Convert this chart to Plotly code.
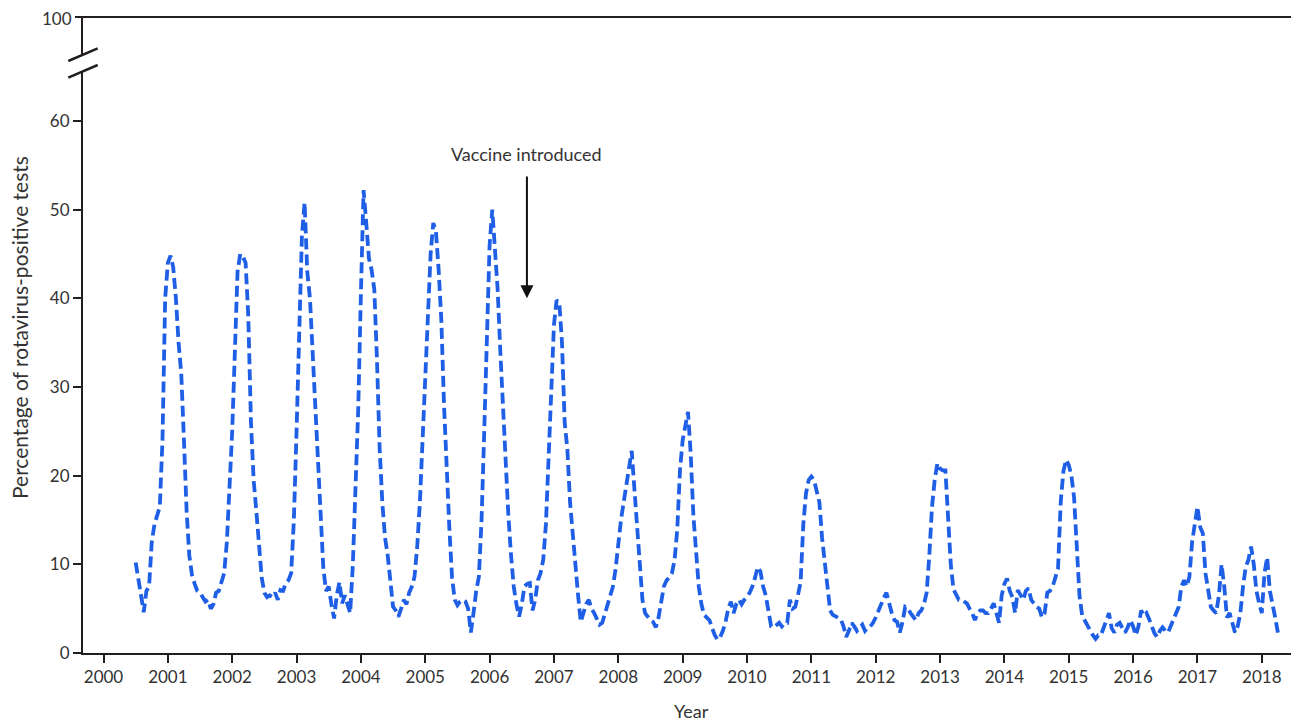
import plotly.graph_objects as go

# Semi-monthly readings (percentage of rotavirus-positive tests), each season starts July 1
start_year = 2000.5
step = 1 / 24

season_2000_01 = [10.2, 8.0, 6.5, 4.6, 7.0, 7.5, 12.5, 14.5, 15.5, 16.5, 24.0, 40.0,
                  44.0, 44.8, 43.5, 40.0, 35.0, 31.5, 24.0, 16.0, 11.0, 8.8, 7.8, 7.0]
season_2001_02 = [6.8, 6.3, 5.8, 6.0, 5.0, 5.5, 6.8, 7.0, 8.0, 9.0, 12.5, 18.0,
                  25.0, 34.0, 43.0, 45.0, 44.7, 44.0, 38.0, 26.0, 19.5, 16.0, 12.0, 8.5]
season_2002_03 = [6.8, 6.3, 6.5, 6.3, 6.8, 6.0, 7.1, 7.0, 7.9, 8.2, 9.0, 15.0,
                  25.0, 38.0, 47.0, 50.8, 43.0, 40.0, 34.0, 28.0, 21.8, 14.0, 9.5, 7.0]
season_2003_04 = [7.5, 5.5, 3.9, 6.5, 8.0, 5.6, 6.5, 5.5, 4.5, 10.0, 18.5, 27.5,
                  40.5, 52.2, 48.5, 44.5, 43.2, 41.0, 33.0, 23.0, 16.9, 13.0, 11.0, 7.5]
season_2004_05 = [5.2, 4.8, 4.1, 5.0, 6.0, 5.5, 6.8, 7.5, 8.6, 12.0, 17.0, 24.0,
                  31.0, 39.0, 45.0, 48.5, 47.5, 43.2, 37.5, 28.0, 20.5, 14.0, 8.5, 6.0]
season_2005_06 = [5.4, 5.8, 6.0, 5.8, 5.0, 2.3, 4.5, 7.0, 8.6, 15.0, 25.0, 35.0,
                  46.0, 50.0, 45.0, 41.0, 34.0, 27.0, 21.0, 15.5, 11.0, 7.5, 5.5, 4.1]
season_2006_07 = [5.5, 7.5, 7.8, 7.9, 4.8, 6.0, 8.2, 9.0, 10.5, 14.5, 22.0, 30.0,
                  37.0, 39.8, 39.5, 35.0, 26.0, 23.0, 17.0, 13.5, 9.5, 6.5, 3.5, 4.5]
season_2007_08 = [5.5, 6.0, 5.0, 4.5, 3.7, 3.2, 3.4, 4.5, 5.6, 6.5, 7.5, 9.5,
                  12.5, 15.0, 17.0, 19.0, 21.0, 22.8, 18.5, 14.0, 9.5, 6.0, 4.5, 4.0]
season_2008_09 = [3.7, 3.5, 2.9, 4.0, 5.6, 7.5, 8.2, 8.5, 9.0, 10.5, 14.0, 20.6,
                  24.0, 25.5, 27.2, 22.5, 15.5, 11.5, 7.5, 5.5, 4.3, 4.0, 3.7, 2.8]
season_2009_10 = [2.0, 1.5, 1.8, 2.5, 3.5, 5.0, 5.8, 4.5, 5.5, 6.0, 5.5, 6.0,
                  6.3, 6.8, 7.5, 8.5, 9.7, 9.2, 7.5, 6.5, 4.5, 3.0, 2.9, 3.2]
season_2010_11 = [3.4, 3.0, 3.4, 3.4, 6.0, 5.0, 5.2, 6.5, 8.0, 14.5, 18.0, 19.5,
                  19.9, 19.5, 18.4, 17.0, 13.0, 10.0, 7.5, 4.8, 4.3, 4.1, 4.0, 3.8]
season_2011_12 = [3.0, 1.8, 2.5, 3.4, 3.0, 2.5, 2.9, 3.2, 2.5, 2.9, 3.0, 3.4,
                  4.0, 4.8, 5.5, 6.2, 6.8, 5.5, 4.5, 3.7, 3.5, 2.3, 3.5, 5.2]
season_2012_13 = [5.0, 4.5, 4.0, 3.7, 4.5, 4.8, 5.5, 6.8, 11.0, 16.5, 19.5, 21.4,
                  20.8, 20.6, 20.6, 15.0, 10.0, 7.2, 6.5, 6.0, 6.0, 5.8, 5.6, 5.0]
season_2013_14 = [4.5, 3.7, 4.5, 4.8, 4.8, 4.5, 4.5, 5.0, 5.6, 4.5, 3.4, 6.5,
                  7.8, 8.4, 7.0, 6.3, 4.5, 7.1, 6.5, 6.0, 7.0, 7.3, 6.0, 5.6]
season_2014_15 = [5.2, 5.0, 4.0, 4.5, 6.8, 7.0, 7.5, 8.5, 9.5, 17.0, 20.5, 21.8,
                  21.2, 20.0, 17.5, 12.0, 6.5, 4.2, 3.6, 3.2, 2.5, 2.0, 1.6, 2.0]
season_2015_16 = [2.0, 2.9, 3.5, 4.5, 2.8, 2.3, 3.2, 3.4, 2.8, 2.3, 2.9, 3.7,
                  3.0, 2.0, 3.0, 4.8, 4.2, 4.5, 3.8, 2.9, 2.2, 1.8, 2.5, 2.9]
season_2016_17 = [2.5, 2.3, 3.0, 3.7, 4.5, 5.2, 7.5, 8.2, 7.5, 8.6, 12.5, 14.5,
                  16.5, 14.2, 13.5, 9.0, 6.8, 5.2, 4.8, 4.5, 6.5, 10.0, 7.5, 4.0]
season_2017_18 = [4.5, 3.5, 2.3, 3.0, 4.5, 7.5, 9.7, 10.5, 12.0, 10.0, 7.0, 5.6,
                  4.5, 9.0, 10.8, 7.0, 5.2, 4.0, 2.3]

year_ticks = list(range(2000, 2019))
y_ticks = [0, 10, 20, 30, 40, 50, 60]
top_tick = 100
annotation_text = "Vaccine introduced"
vaccine_year = 2006.58

values = (season_2000_01 + season_2001_02 + season_2002_03 + season_2003_04 +
          season_2004_05 + season_2005_06 + season_2006_07 + season_2007_08 +
          season_2008_09 + season_2009_10 + season_2010_11 + season_2011_12 +
          season_2012_13 + season_2013_14 + season_2014_15 + season_2015_16 +
          season_2016_17 + season_2017_18)
years = [start_year + i * step for i in range(len(values))]

FONT = "Lato"
AX = "#231f20"
TXT = "#333333"

# page geometry of the reference (the page body adds an 8px offset)
OFF = 8
PAGE_W, PAGE_H = 1299, 722
W, H = PAGE_W - OFF, PAGE_H - OFF
PL, PT, PB = 83, 17, 653          # plot area edges in page pixels
L, T, R = PL - OFF, PT - OFF, 0
B = H - (PB - OFF)
PW, PH = W - L - R, H - T - B
def px_x(px):
    return (px - PL) / PW
def px_y(py):
    return (PB - py) / PH

lower_top_px = 71.3
upper_bot_px = 54.6
per_unit = 8.867

fig = go.Figure()
fig.add_trace(go.Scatter(
    x=years, y=values, mode="lines",
    line=dict(color="#1F5FE6", width=3.8, dash="11px,5px"),
    showlegend=False, hoverinfo="x+y",
))
fig.add_trace(go.Scatter(x=[], y=[], yaxis="y2", showlegend=False))

axis_common = dict(
    ticks="outside", ticklen=8, tickwidth=2, tickcolor=AX,
    showline=True, linewidth=2, linecolor=AX,
    showgrid=False, zeroline=False, automargin=False,
    tickfont=dict(family=FONT, size=17, color=TXT),
)

fig.update_layout(
    width=W, height=H,
    margin=dict(l=L, r=R, t=T, b=B, pad=0, autoexpand=False),
    paper_bgcolor="white", plot_bgcolor="white",
    font=dict(family=FONT, size=15, color=TXT),
    xaxis=dict(
        range=[2000 + (PL - 103.5) / 64.35, 2000 + (PAGE_W - 103.5) / 64.35],
        tickvals=year_ticks, ticktext=[str(y) for y in year_ticks],
        **axis_common,
    ),
    yaxis=dict(
        domain=[0, px_y(lower_top_px)],
        range=[0, (PB - lower_top_px) / per_unit],
        tickvals=y_ticks,
        **axis_common,
    ),
    yaxis2=dict(
        domain=[px_y(upper_bot_px), 1],
        range=[96, top_tick], anchor="x",
        tickvals=[], showticklabels=False,
        **axis_common,
    ),
)

# top boundary line (with its 100 tick) and axis-break marks
fig.add_shape(type="line", xref="paper", yref="paper", x0=px_x(75), x1=1, y0=1, y1=1,
              line=dict(color=AX, width=2))
for (y0, y1) in [(61.0, 48.3), (77.7, 65.0)]:
    fig.add_shape(type="line", xref="paper", yref="paper",
                  x0=px_x(68.3), y0=px_y(y0), x1=px_x(97.7), y1=px_y(y1),
                  line=dict(color=AX, width=2.5))
fig.add_annotation(x=px_x(73), y=px_y(18.5), xref="paper", yref="paper",
                   text=str(top_tick), showarrow=False,
                   font=dict(family=FONT, size=17, color=TXT),
                   xanchor="right", yanchor="middle", borderpad=0)

# vaccine arrow and label
fig.add_annotation(x=vaccine_year, y=40.0, ax=vaccine_year, ay=53.9,
                   xref="x", yref="y", axref="x", ayref="y",
                   text="", showarrow=True, arrowhead=2, arrowsize=1.3,
                   arrowwidth=2, arrowcolor="#111111", standoff=0)
fig.add_annotation(x=vaccine_year, y=56.3, xref="x", yref="y", text=annotation_text,
                   showarrow=False, font=dict(size=18, color=TXT),
                   xanchor="center", yanchor="middle")

# axis titles
fig.add_annotation(x=0.5, y=px_y(711), xref="paper", yref="paper", text="Year",
                   showarrow=False, font=dict(size=18, color=TXT),
                   xanchor="center", yanchor="middle")
fig.add_annotation(x=px_x(20), y=px_y(328), xref="paper", yref="paper",
                   text="Percentage of rotavirus-positive tests", textangle=-90,
                   showarrow=False, font=dict(size=21, color=TXT),
                   xanchor="center", yanchor="middle")

fig.write_html("out.html")
